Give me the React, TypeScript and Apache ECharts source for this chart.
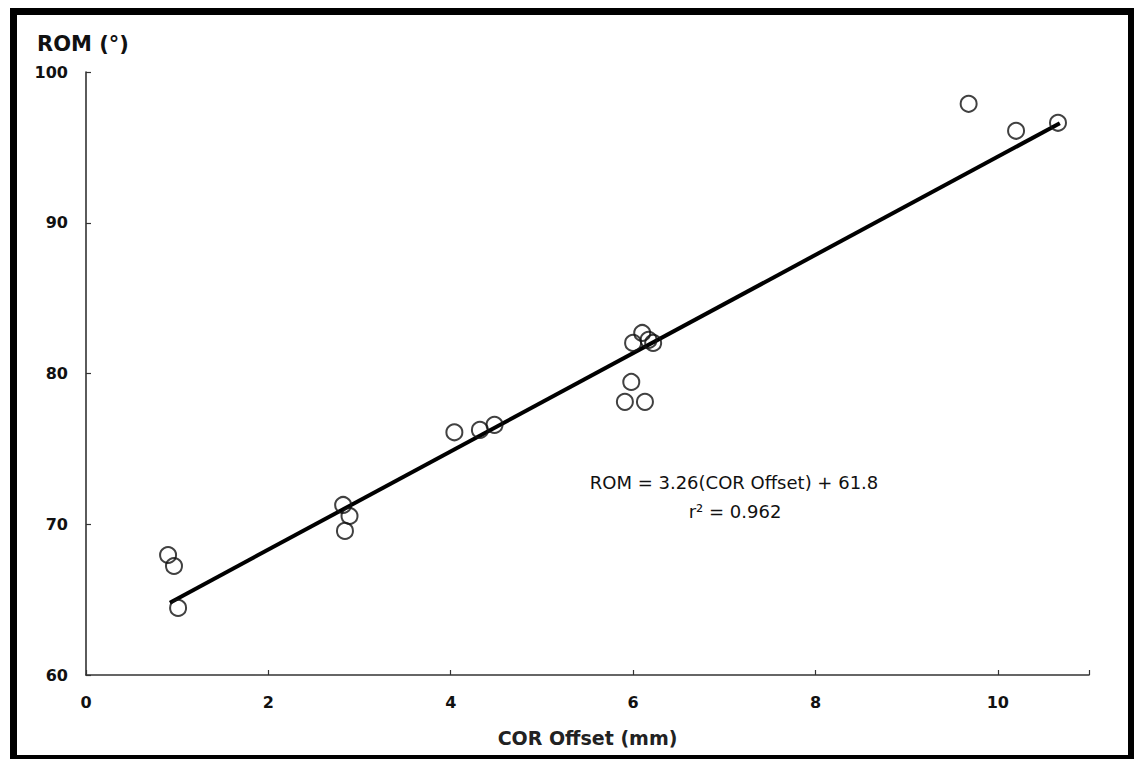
import React, { useEffect, useRef } from "react";
import * as echarts from "echarts";

// Data
const corOffset = [0.9, 0.965, 1.01, 2.82, 2.89, 2.84, 4.04, 4.32, 4.48, 6.0, 6.1, 6.17, 6.22, 5.98, 5.91, 6.13, 9.68, 10.2, 10.66];
const romValues = [67.96, 67.23, 64.45, 71.28, 70.55, 69.56, 76.1, 76.26, 76.59, 82.03, 82.69, 82.23, 82.03, 79.44, 78.12, 78.12, 97.89, 96.1, 96.63];
const fitX = [0.92, 10.68];
const fitY = [64.8, 96.6];
const xTicks = { min: 0, max: 11, interval: 2 };
const yTicks = { min: 60, max: 100, interval: 10 };
const titleText = "ROM (°)";
const xAxisName = "COR Offset (mm)";
const equationLine1 = "ROM = 3.26(COR Offset) + 61.8";
const equationLine2 = "r² = 0.962";

const FONT = "DejaVu Sans";

export default function App() {
  const ref = useRef<HTMLDivElement>(null);
  useEffect(() => {
    if (!ref.current) return;
    const chart = echarts.init(ref.current, null, { renderer: "svg" });
    const points = corOffset.map((x, i) => [x, romValues[i]]);
    const fit = fitX.map((x, i) => [x, fitY[i]]);
    chart.setOption({
      animation: false,
      backgroundColor: "#fff",
      title: {
        text: titleText,
        left: 32,
        top: 28,
        textStyle: { fontFamily: FONT, fontSize: 21, fontWeight: "bold", color: "#111" },
      },
      grid: { left: 86, right: 45, top: 72, bottom: 84, containLabel: false },
      xAxis: {
        type: "value",
        min: xTicks.min,
        max: xTicks.max,
        interval: xTicks.interval,
        name: xAxisName,
        nameLocation: "middle",
        nameGap: 53,
        nameTextStyle: { fontFamily: FONT, fontSize: 19, fontWeight: "bold", color: "#222" },
        axisLine: { lineStyle: { color: "#333", width: 1.6 } },
        axisTick: { inside: true, length: 5, lineStyle: { color: "#333", width: 1.2 } },
        axisLabel: {
          fontFamily: FONT,
          fontSize: 16,
          fontWeight: "bold",
          color: "#111",
          margin: 19,
          formatter: (v: number) => (v <= 10 ? String(v) : ""),
        },
        splitLine: { show: false },
      },
      yAxis: {
        type: "value",
        min: yTicks.min,
        max: yTicks.max,
        interval: yTicks.interval,
        axisLine: { show: true, lineStyle: { color: "#333", width: 1.6 } },
        axisTick: { show: true, inside: true, length: 5, lineStyle: { color: "#333", width: 1.2 } },
        axisLabel: {
          fontFamily: FONT,
          fontSize: 16,
          fontWeight: "bold",
          color: "#111",
          margin: 18,
        },
        splitLine: { show: false },
      },
      series: [
        {
          type: "line",
          data: fit,
          symbol: "none",
          lineStyle: { color: "#000", width: 4 },
          silent: true,
          z: 2,
        },
        {
          type: "scatter",
          data: points,
          symbol: "circle",
          symbolSize: 16,
          itemStyle: { color: "rgba(0,0,0,0)", borderColor: "#111", borderWidth: 2 },
          z: 3,
        },
      ],
      graphic: [
        {
          type: "rect",
          shape: { x: 13.5, y: 11.5, width: 1118, height: 747 },
          style: { fill: "none", stroke: "#000", lineWidth: 7 },
          silent: true,
        },
        {
          type: "text",
          x: 734,
          y: 482,
          style: {
            text: equationLine1,
            fontFamily: FONT,
            fontSize: 18,
            fontWeight: 500,
            fill: "#111",
            textAlign: "center",
            textVerticalAlign: "middle",
          },
        },
        {
          type: "text",
          x: 735,
          y: 511,
          style: {
            text: equationLine2,
            fontFamily: FONT,
            fontSize: 18,
            fontWeight: 500,
            fill: "#111",
            textAlign: "center",
            textVerticalAlign: "middle",
          },
        },
      ],
    });
    return () => chart.dispose();
  }, []);
  return (
    <div
      ref={ref}
      style={{ position: "fixed", left: 0, top: 0, width: 1134, height: 759 }}
    />
  );
}
